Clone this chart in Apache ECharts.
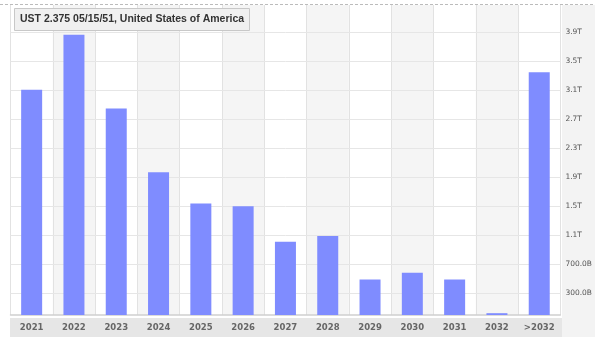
<!DOCTYPE html>
<html>
<head>
<meta charset="utf-8">
<script src="https://cdn.jsdelivr.net/npm/echarts@6/dist/echarts.min.js"></script>
<style>
  html, body { margin: 0; padding: 0; background: #fff; }
  #report { width: 595px; height: 337px; }
</style>
</head>
<body>
<div id="report"></div>
<script>
// maturity buckets and outstanding amounts (USD)
var years = ['2021', '2022', '2023', '2024', '2025', '2026', '2027', '2028', '2029', '2030', '2031', '2032', '>2032'];
var amounts = [3.11e12, 3.87e12, 2.85e12, 1.97e12, 1.54e12, 1.50e12, 1.01e12, 1.09e12, 0.49e12, 0.585e12, 0.49e12, 0.025e12, 3.35e12];
var tickValues = [300e9, 700e9, 1.1e12, 1.5e12, 1.9e12, 2.3e12, 2.7e12, 3.1e12, 3.5e12, 3.9e12];
var titleText = 'UST 2.375 05/15/51, United States of America';

function fmt(v) {
	if (v >= 1e12) return (v / 1e12).toFixed(1) + 'T';
	return (v / 1e9).toFixed(1) + 'B';
}

var myChart = echarts.init(document.getElementById('report'));
var option = {
	animation: false,
	title: {
		text: titleText,
		left: 14,
		top: 8,
		padding: [6, 6, 6, 6],
		backgroundColor: '#f0f0f0',
		borderColor: '#c8c8c8',
		borderWidth: 1,
		textStyle: { fontFamily: 'Liberation Sans', fontSize: 10.5, fontWeight: 'bold', color: '#333' }
	},
	graphic: [
		{ type: 'rect', silent: true, z: -10, shape: { x: 562, y: 5, width: 33, height: 332 }, style: { fill: '#f3f3f3' } },
		{ type: 'rect', silent: true, z: -10, shape: { x: 10, y: 318, width: 552, height: 19 }, style: { fill: '#e6e6e6' } },
		{ type: 'line', silent: true, shape: { x1: 0, y1: 4.5, x2: 595, y2: 4.5 }, style: { stroke: '#bbb', lineDash: [3, 2], lineWidth: 1 } }
	],
	grid: { left: 10.5, right: 33, top: 5, bottom: 22 },
	xAxis: {
		type: 'category',
		data: years,
		axisLine: { show: true, lineStyle: { color: '#d0d0d0', width: 1.5 } },
		axisTick: { show: false },
		axisLabel: { margin: 8, fontFamily: 'DejaVu Sans', fontSize: 8.5, fontWeight: 'bold', color: '#666' },
		splitLine: { show: true, lineStyle: { color: '#e2e2e2' } },
		splitArea: { show: true, areaStyle: { color: ['#ffffff', '#f5f5f5'] } }
	},
	yAxis: {
		type: 'value',
		position: 'right',
		min: 0,
		max: 4.28e12,
		axisLine: { show: false },
		axisTick: { show: false, customValues: tickValues },
		axisLabel: {
			customValues: tickValues,
			margin: 5,
			align: 'left',
			fontFamily: 'DejaVu Sans',
			fontSize: 7.5,
			color: '#555',
			formatter: fmt
		},
		splitLine: { show: false }
	},
	series: [{
		type: 'bar',
		data: amounts,
		barWidth: 21,
		itemStyle: { color: '#7f8cff' },
		markLine: {
			silent: true,
			z: 1,
			symbol: ['none', 'none'],
			label: { show: false },
			lineStyle: { color: '#e6e6e6', type: 'solid', width: 1 },
			data: tickValues.map(function(v) { return { yAxis: v }; })
		}
	}]
};
myChart.setOption(option);
</script>
</body>
</html>
